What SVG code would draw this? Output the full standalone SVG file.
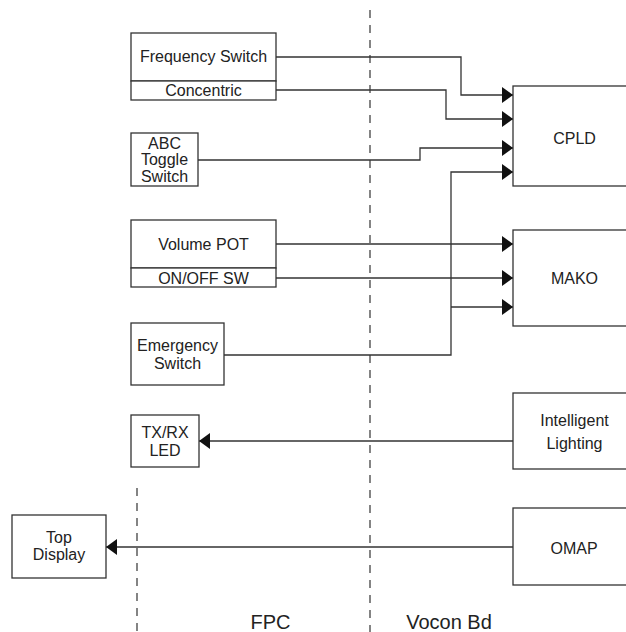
<svg xmlns="http://www.w3.org/2000/svg" width="626" height="632" viewBox="0 0 626 632">
<style>
.box{fill:#fff;stroke:#333;stroke-width:1.3}
.t{font-family:"Liberation Sans",Arial,sans-serif;font-size:16px;fill:#222;text-anchor:middle}
.lbl{font-family:"Liberation Sans",Arial,sans-serif;font-size:20px;fill:#222;text-anchor:middle}
.c{fill:none;stroke:#333;stroke-width:1.3}
.dash{fill:none;stroke:#333;stroke-width:1.2;stroke-dasharray:8 7}
</style>
<defs>
<marker id="arr" markerUnits="userSpaceOnUse" markerWidth="12" markerHeight="18" refX="11" refY="8" orient="auto">
<path d="M0,0 L11,8 L0,16 Z" fill="#111"/>
</marker>
</defs>
<rect width="626" height="632" fill="#fff"/>
<g id="dividers">
<line class="dash" x1="370" y1="10" x2="370" y2="632"/>
<line class="dash" x1="137" y1="488" x2="137" y2="632"/>
</g>
<g id="connectors">
<path class="c" d="M276,57 H461 V95 H513" marker-end="url(#arr)"/>
<path class="c" d="M276,90 H446 V119 H513" marker-end="url(#arr)"/>
<path class="c" d="M198,160 H420 V148 H513" marker-end="url(#arr)"/>
<path class="c" d="M224,355 H451 V172 H513" marker-end="url(#arr)"/>
<path class="c" d="M451,307 H513" marker-end="url(#arr)"/>
<path class="c" d="M276,244 H513" marker-end="url(#arr)"/>
<path class="c" d="M276,278 H513" marker-end="url(#arr)"/>
<path class="c" d="M513,441 H199" marker-end="url(#arr)"/>
<path class="c" d="M513,547 H106" marker-end="url(#arr)"/>
</g>
<g id="freq-switch">
<rect class="box" x="131" y="33" width="145" height="48"/>
<text class="t" x="203.5" y="62">Frequency Switch</text>
</g>
<g id="concentric">
<rect class="box" x="131" y="81" width="145" height="19"/>
<text class="t" x="203.5" y="95.5">Concentric</text>
</g>
<g id="abc-toggle">
<rect class="box" x="131" y="133" width="67" height="53"/>
<text class="t" x="164.5" y="148.5">ABC</text>
<text class="t" x="164.5" y="165">Toggle</text>
<text class="t" x="164.5" y="181.5">Switch</text>
</g>
<g id="volume-pot">
<rect class="box" x="131" y="220" width="145" height="48"/>
<text class="t" x="203.5" y="249.5">Volume POT</text>
</g>
<g id="onoff-sw">
<rect class="box" x="131" y="268" width="145" height="19"/>
<text class="t" x="203.5" y="284">ON/OFF SW</text>
</g>
<g id="emergency">
<rect class="box" x="131" y="323" width="93" height="62"/>
<text class="t" x="177.5" y="351">Emergency</text>
<text class="t" x="177.5" y="368.5">Switch</text>
</g>
<g id="txrx-led">
<rect class="box" x="131" y="415" width="68" height="52"/>
<text class="t" x="165" y="437.5">TX/RX</text>
<text class="t" x="165" y="456">LED</text>
</g>
<g id="top-display">
<rect class="box" x="12" y="515" width="94" height="63"/>
<text class="t" x="59" y="543">Top</text>
<text class="t" x="59" y="560">Display</text>
</g>
<g id="cpld">
<rect class="box" x="513" y="86" width="124" height="100"/>
<text class="t" x="574.5" y="143.5">CPLD</text>
</g>
<g id="mako">
<rect class="box" x="513" y="230" width="124" height="96"/>
<text class="t" x="574.5" y="284">MAKO</text>
</g>
<g id="intelligent-lighting">
<rect class="box" x="513" y="393" width="124" height="76"/>
<text class="t" x="574.5" y="426">Intelligent</text>
<text class="t" x="574.5" y="448.5">Lighting</text>
</g>
<g id="omap">
<rect class="box" x="513" y="508" width="124" height="77"/>
<text class="t" x="574" y="554">OMAP</text>
</g>
<g id="labels">
<text class="lbl" x="270.5" y="629">FPC</text>
<text class="lbl" x="449" y="629">Vocon Bd</text>
</g>
</svg>
